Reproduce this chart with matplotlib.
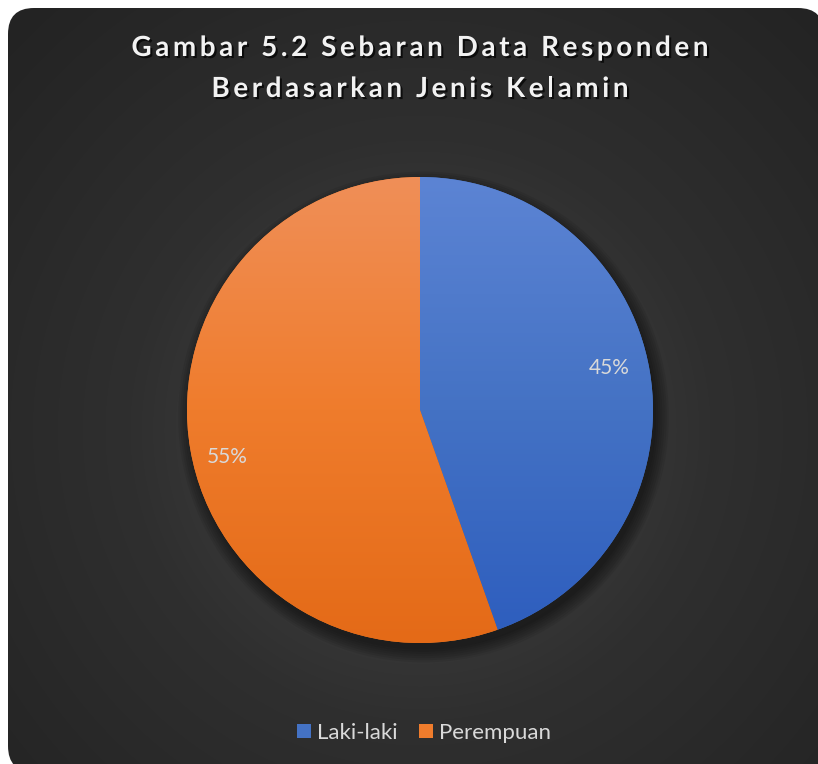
import numpy as np
import matplotlib
matplotlib.use("Agg")
import matplotlib.pyplot as plt
from matplotlib.patches import FancyBboxPatch, Circle
from matplotlib.colors import LinearSegmentedColormap
from matplotlib.font_manager import FontProperties
from matplotlib.textpath import TextToPath
import matplotlib.patheffects as pe

# data (respondent counts)
labels = ["Laki-laki", "Perempuan"]
values = [33, 41]
label_angles = [12.6, 193.8]   # where Excel put the % labels (degrees)
label_dist = [0.834, 0.85]
top_colors = ["#5c84d4", "#f08f58"]
mid_colors = ["#4472c4", "#ef7c2c"]
bottom_colors = ["#2d5dbe", "#e46a17"]
title_lines = ["Gambar 5.2 Sebaran Data Responden", "Berdasarkan Jenis Kelamin"]

plt.rcParams["font.family"] = ["Lato", "DejaVu Sans"]

W, H = 818, 764
fig = plt.figure(figsize=(W / 100, H / 100), dpi=100, facecolor="white")

# background card with radial gradient
bg = fig.add_axes([0, 0, 1, 1])
card = FancyBboxPatch((8, 8), 816, 764, boxstyle="round,pad=0,rounding_size=26",
                      facecolor="none", edgecolor="none")
bg.add_patch(card)
yy, xx = np.mgrid[0:H + 10, 0:W + 10]
r = np.sqrt((xx - 420) ** 2 + (yy - 430) ** 2) / 580.0
bg_cmap = LinearSegmentedColormap.from_list("bg", ["#484848", "#2f2f2f", "#232323"])
im = bg.imshow(np.clip(r, 0, 1), cmap=bg_cmap, vmin=0, vmax=1,
               extent=[0, W + 10, H + 10, 0], interpolation="bilinear")
im.set_clip_path(card)
bg.set_xlim(0, W)
bg.set_ylim(H, 0)
bg.axis("off")

# title, drawn letter by letter to get Excel's wide tracking
tprop = FontProperties(family="Lato", weight="bold", size=20)
ttp = TextToPath()
spacing = 3.6
shadow = [pe.withSimplePatchShadow(offset=(1.5, -1.5), shadow_rgbFace="black", alpha=0.7)]
for line, ty in zip(title_lines, [48, 89]):
    widths = [ttp.get_text_width_height_descent(c, tprop, ismath=False)[0] * 100 / 72
              for c in line]
    total = sum(widths) + spacing * (len(line) - 1)
    x = 420 - total / 2
    for c, w in zip(line, widths):
        if c != " ":
            bg.text(x, ty, c, ha="left", va="center", fontproperties=tprop,
                    color="#f2f2f2", path_effects=shadow)
        x += w + spacing

# pie
cx, cy, R = 420, 410, 233
ax = fig.add_axes([(cx - R) / W, (H - cy - R) / H, 2 * R / W, 2 * R / H])
ax.patch.set_alpha(0)

# soft shadow behind the pie, offset downwards
for k in range(7):
    ax.add_patch(Circle((0.015, -0.03), 0.99 + 0.009 * (k + 1), color="black",
                        alpha=0.07, lw=0, zorder=0, clip_on=False))

wedges, _ = ax.pie(values, labels=None, startangle=90, counterclock=False,
                   colors=mid_colors, wedgeprops=dict(linewidth=0))
grad = np.linspace(0, 1, 256).reshape(-1, 1)
for w, c0, c1, c2 in zip(wedges, top_colors, mid_colors, bottom_colors):
    w.set_zorder(2)
    w.set_clip_on(False)
    cm = LinearSegmentedColormap.from_list("g", [c0, c1, c2])
    gi = ax.imshow(grad, cmap=cm, extent=[-1, 1, -1, 1], origin="upper",
                   aspect="auto", zorder=3)
    gi.set_clip_path(w)

total_v = sum(values)
for v, ang, d in zip(values, label_angles, label_dist):
    a = np.deg2rad(ang)
    ax.text(d * np.cos(a), d * np.sin(a), f"{round(100 * v / total_v)}%",
            ha="center", va="center", fontsize=15, color="#d9d9d9", zorder=5)

ax.set_xlim(-1, 1)
ax.set_ylim(-1, 1)
ax.axis("off")

# legend
leg = fig.legend(wedges, labels, loc="center", bbox_to_anchor=(424 / W, 1 - 733 / H),
                 ncol=2, frameon=False, fontsize=16, handlelength=0.62,
                 handleheight=0.62, handletextpad=0.25, columnspacing=1.0)
for t in leg.get_texts():
    t.set_color("#d9d9d9")

fig.savefig("out.png", dpi=100, facecolor="white")
